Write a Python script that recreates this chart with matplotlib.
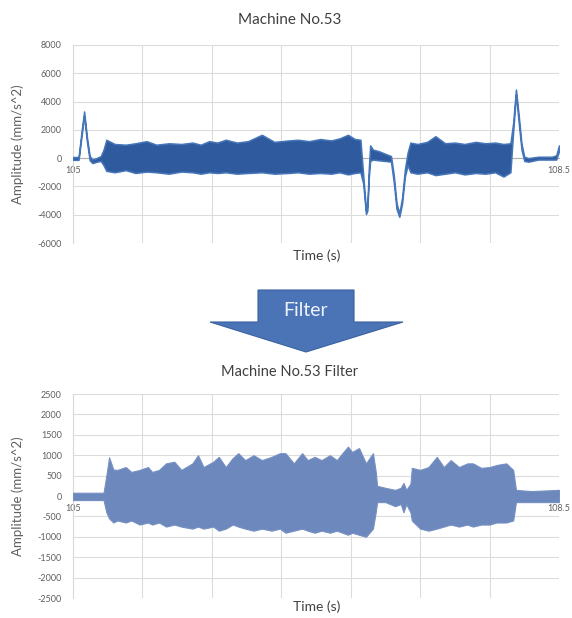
import matplotlib
matplotlib.use("Agg")
import matplotlib.pyplot as plt
from matplotlib.patches import Polygon

# ---------------- data ----------------
top_time = [105.00, 105.04, 105.06, 105.08, 105.10, 105.12, 105.14, 105.17, 105.20, 105.22,
            105.24, 105.30, 105.38, 105.45, 105.53, 105.60, 105.69, 105.78, 105.86, 105.92,
            105.98, 106.04, 106.10, 106.18, 106.26, 106.36, 106.45, 106.55, 106.62, 106.70,
            106.78, 106.86, 106.92, 106.98, 107.03, 107.07, 107.09, 107.11, 107.12, 107.13,
            107.14, 107.16, 107.20, 107.25, 107.29, 107.31, 107.33, 107.35, 107.37, 107.39,
            107.41, 107.43, 107.48, 107.55, 107.61, 107.68, 107.75, 107.82, 107.90, 107.97,
            108.04, 108.10, 108.15, 108.17, 108.19, 108.21, 108.23, 108.25, 108.28, 108.35,
            108.45, 108.48, 108.50]
top_upper = [80, 80, 1750, 3300, 1500, 150, -100, 0, 150, 600,
             1300, 1000, 950, 1050, 1200, 950, 1050, 1000, 1100, 950,
             1200, 1100, 1300, 1100, 1200, 1650, 1150, 1250, 1300, 1200,
             1350, 1250, 1400, 1650, 1350, 1300, -1200, -3700, -3300, -800,
             900, 600, 500, 300, 150, -1200, -3200, -3900, -2800, -800,
             400, 1100, 1000, 1150, 1550, 1050, 1100, 1000, 1150, 1050,
             1100, 1000, 1050, 2500, 4850, 3000, 1000, 100, 0, 100,
             100, 200, 900]
top_lower = [-120, -120, 1450, 3000, 1200, -150, -350, -250, -200, -500,
             -900, -1000, -850, -1050, -950, -1000, -1100, -950, -1000, -1100,
             -1000, -1050, -1000, -1100, -1050, -1000, -1100, -1050, -1000, -1100,
             -1050, -1100, -1000, -1150, -1050, -1000, -1800, -3950, -3700, -1400,
             -200, -100, -150, -200, -250, -1700, -3600, -4150, -3200, -1300,
             -500, -1000, -1100, -1000, -1200, -1100, -1000, -1150, -1050, -1100,
             -1000, -1300, -1000, 1900, 4500, 2500, 600, -200, -250, -100,
             -100, -100, 500]

bot_time = [105.00, 105.22, 105.24, 105.26, 105.29, 105.32, 105.38, 105.42, 105.48, 105.54,
            105.57, 105.62, 105.67, 105.73, 105.78, 105.86, 105.90, 105.94, 106.01, 106.05,
            106.10, 106.15, 106.19, 106.24, 106.30, 106.36, 106.43, 106.49, 106.53, 106.59,
            106.65, 106.69, 106.74, 106.79, 106.85, 106.90, 106.94, 106.98, 107.01, 107.06,
            107.11, 107.16, 107.18, 107.19, 107.25, 107.32, 107.36, 107.38, 107.40, 107.43,
            107.44, 107.50, 107.56, 107.62, 107.67, 107.72, 107.78, 107.84, 107.88, 107.94,
            108.00, 108.05, 108.12, 108.17, 108.19, 108.30, 108.50]
bot_upper = [80, 80, 500, 950, 650, 640, 710, 590, 640, 710,
             590, 640, 800, 840, 640, 800, 1000, 710, 840, 960,
             710, 930, 1050, 880, 1000, 880, 960, 1050, 1050, 800,
             1050, 880, 960, 880, 1000, 880, 1050, 1210, 1080, 1175,
             800, 1050, 600, 250, 200, 150, 200, 320, 150, 300,
             690, 640, 710, 960, 710, 880, 710, 800, 800, 690,
             710, 760, 800, 640, 150, 120, 150]
bot_lower = [-100, -100, -400, -550, -650, -600, -650, -600, -700, -650,
             -700, -650, -750, -700, -750, -800, -750, -800, -750, -850,
             -800, -700, -750, -800, -850, -800, -850, -800, -900, -850,
             -800, -850, -900, -850, -900, -850, -900, -950, -900, -950,
             -1000, -800, -400, -150, -150, -250, -200, -400, -200, -400,
             -600, -800, -850, -800, -750, -700, -750, -700, -750, -700,
             -700, -650, -650, -600, -150, -150, -150]

x_ticks = [105, 105.5, 106, 106.5, 107, 107.5, 108, 108.5]
x_labels = ["105", "105.5", "106", "106.5", "107", "107.5", "108", "108.5"]
top_yticks = [-6000, -4000, -2000, 0, 2000, 4000, 6000, 8000]
bot_yticks = [-2500, -2000, -1500, -1000, -500, 0, 500, 1000, 1500, 2000, 2500]

title_top = "Machine No.53"
title_bot = "Machine No.53 Filter"
xlabel = "Time (s)"
ylabel = "Amplitude (mm/s^2)"
arrow_text = "Filter"

# ---------------- figure ----------------
W, H = 572, 618
plt.rcParams['font.family'] = ['Lato', 'DejaVu Sans']
fig = plt.figure(figsize=(W / 100, H / 100), dpi=100)


def fx(px):
    return px / W


def fy(py):
    return 1 - py / H


def style_axes(ax, yticks, ylim):
    ax.set_xlim(105, 108.5)
    ax.set_ylim(*ylim)
    ax.set_xticks(x_ticks)
    ax.set_xticklabels(x_labels)
    ax.set_yticks(yticks)
    ax.set_yticklabels([str(v) for v in yticks])
    ax.grid(True, color='#dcdcdc', lw=0.8)
    ax.set_axisbelow(True)
    for s in ('top', 'right'):
        ax.spines[s].set_visible(False)
    ax.spines['left'].set_color('#d9d9d9')
    ax.spines['bottom'].set_position(('data', 0))
    ax.spines['bottom'].set_color('#b0b0b0')
    ax.tick_params(length=0, labelsize=6.5, labelcolor='#606060')
    ax.tick_params(axis='x', pad=6)
    ax.tick_params(axis='y', pad=8)
    ax.set_facecolor('none')


PL, PW = 73, 486  # plot area left edge and width in pixels

# top axes: plot area y 45..243
ax1 = fig.add_axes([fx(PL), fy(243), fx(PW), 198 / H])
ax1.fill_between(top_time, top_lower, top_upper, facecolor='#2f5a9e', lw=1.1,
                 edgecolor='#4676ba', zorder=3)
style_axes(ax1, top_yticks, (-6000, 8000))

# bottom axes: plot area y 394..598
ax2 = fig.add_axes([fx(PL), fy(598), fx(PW), 204 / H])
ax2.fill_between(bot_time, bot_lower, bot_upper, facecolor='#6d88bd', lw=0.8,
                 edgecolor='#7690c2', zorder=3)
style_axes(ax2, bot_yticks, (-2500, 2500))

# titles and labels
tcol = '#404040'
fig.text(fx(290), fy(20), title_top, ha='center', va='center', fontsize=11, color=tcol)
fig.text(fx(317), fy(256), xlabel, ha='center', va='center', fontsize=10, color=tcol)
fig.text(fx(18), fy(144), ylabel, ha='center', va='center', rotation=90, fontsize=9.5, color='#606060')
fig.text(fx(290), fy(372), title_bot, ha='center', va='center', fontsize=10.5, color=tcol)
fig.text(fx(317), fy(607), xlabel, ha='center', va='center', fontsize=10, color=tcol)
fig.text(fx(18), fy(496), ylabel, ha='center', va='center', rotation=90, fontsize=9.5, color='#606060')

# arrow
arrow_px = [(258, 290), (354, 290), (354, 322), (403, 322), (306, 352), (210, 322), (258, 322)]
poly = Polygon([(fx(x), fy(y)) for x, y in arrow_px], closed=True, transform=fig.transFigure,
               facecolor='#4a74b5', edgecolor='#3a62a0', lw=0.8)
fig.patches.append(poly)
fig.text(fx(306), fy(311), arrow_text, ha='center', va='center', fontsize=14, color='#eef2fa')

fig.savefig('out.png', dpi=100)
